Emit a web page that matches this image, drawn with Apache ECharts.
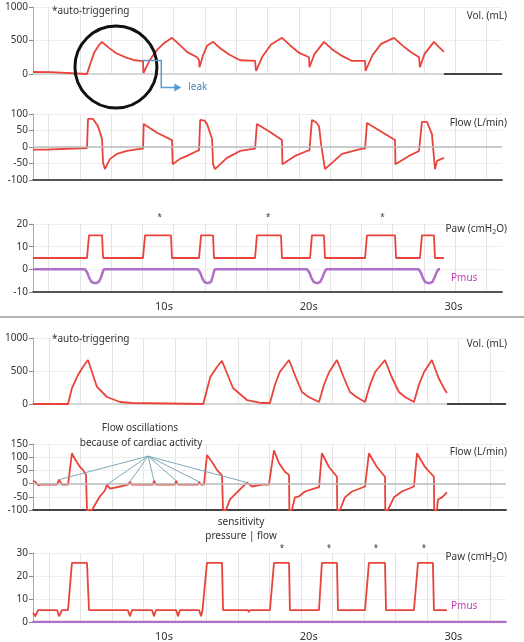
<!DOCTYPE html>
<html>
<head>
<meta charset="utf-8">
<script src="https://cdn.jsdelivr.net/npm/echarts@6/dist/echarts.min.js"></script>
<style>
html,body{margin:0;padding:0;background:#fff}
#main{width:524px;height:642px}
</style>
</head>
<body>
<div id="main"></div>
<script>
// ---- data (time in s, values in panel units) ----
var volTop = [[0.95,30],[2.2,28],[2.3,0],[4.68,0],[4.9,150],[5.2,330],[5.5,430],[5.72,478],[6.2,390],[6.7,310],[7.44,240],[8.0,205],[8.34,195],[8.55,195],[8.58,15],[9.0,200],[9.52,360],[10.0,460],[10.55,540],[11.1,430],[11.59,330],[12.28,250],[12.42,210],[12.45,100],[12.7,280],[12.97,420],[13.39,480],[13.9,380],[14.5,290],[15.25,205],[16.29,195],[16.36,45],[16.8,260],[17.4,440],[18.15,540],[18.7,430],[19.3,320],[20.02,250],[20.05,100],[20.4,300],[21.05,480],[21.6,370],[22.3,270],[22.99,195],[23.89,195],[23.92,45],[24.4,280],[25.0,450],[25.89,540],[26.5,420],[27.1,320],[27.62,250],[27.68,100],[28.0,300],[28.65,480],[29.0,400],[29.34,330]];
var flowTop = [[0.95,-8],[1.85,-8],[1.86,-3],[4.68,-3],[4.75,85],[5.1,85],[5.44,63],[5.72,24],[5.79,-48],[5.92,-67],[6.27,-36],[6.8,-20],[7.44,-12],[8.34,-6],[8.55,-5],[8.6,70],[9.52,43],[10.55,21],[10.6,-52],[11.1,-36],[11.59,-27],[12.28,-12],[12.42,-10],[12.5,82],[12.8,80],[12.97,70],[13.32,24],[13.39,-52],[13.52,-67],[14.35,-33],[15.25,-12],[16.15,-6],[16.29,-5],[16.42,70],[17.25,48],[18.15,21],[18.18,-52],[19.05,-27],[19.88,-12],[20.05,-10],[20.22,82],[20.5,75],[20.71,63],[20.85,9],[21.12,-67],[22.3,-21],[23.68,-5],[23.89,-5],[24.02,73],[25.96,21],[25.99,-52],[26.92,-27],[27.62,-12],[27.7,-10],[27.82,76],[28.17,76],[28.51,39],[28.72,-67],[28.86,-42],[29.34,-33]];
var pawTop = [[0.95,5],[4.68,5],[4.82,15],[5.72,15],[5.79,5],[8.55,5],[8.69,15],[10.48,15],[10.55,5],[12.42,5],[12.56,15],[13.39,15],[13.45,5],[16.29,5],[16.42,15],[18.08,15],[18.15,5],[20.09,5],[20.22,15],[21.05,15],[21.12,5],[23.89,5],[24.02,15],[25.96,15],[26.03,5],[27.68,5],[27.82,15],[28.65,15],[28.72,5],[29.34,5]];
var pmusTop = [[0.95,0],[4.55,0],[4.7,-1.5],[4.85,-4],[5.0,-5.6],[5.15,-6],[5.35,-6],[5.5,-5.5],[5.65,-3.5],[5.78,-1],[5.85,0],[12.35,0],[12.5,-1.5],[12.65,-4],[12.8,-5.6],[12.95,-6],[13.1,-6],[13.25,-5.5],[13.35,-3.5],[13.45,-1],[13.52,0],[19.88,0],[20.05,-1.5],[20.2,-4],[20.35,-5.6],[20.5,-6],[20.65,-6],[20.8,-5.5],[20.95,-3.5],[21.1,-1],[21.2,0],[27.6,0],[27.75,-1.5],[27.9,-4],[28.05,-5.6],[28.2,-6],[28.4,-6],[28.55,-5.5],[28.7,-3.5],[28.85,-1],[28.95,0],[29.07,0]];
var sweepTop = [[29.34,0],[33.35,0]];

var volBot = [[0.95,0],[3.37,0],[3.64,242],[4.06,440],[4.4,560],[4.75,667],[5.37,258],[6.06,106],[6.96,30],[7.79,15],[7.85,0],[12.71,0],[13.2,409],[13.66,560],[14.0,655],[14.77,242],[15.73,60],[16.77,15],[17.32,15],[17.66,288],[18.0,485],[18.64,667],[19.1,409],[19.53,182],[20.0,106],[20.71,30],[21.05,288],[21.41,485],[21.95,667],[22.41,409],[22.85,182],[23.3,106],[23.89,30],[24.23,288],[24.59,485],[25.27,667],[25.73,409],[26.23,182],[26.65,106],[27.27,30],[27.61,288],[27.97,485],[28.51,667],[28.98,390],[29.34,240],[29.55,167]];
var flowBot = [[0.95,11],[1.1,7],[1.3,-6],[1.5,-4],[2.61,-4],[2.75,15],[2.95,-4],[3.37,-4],[3.64,115],[3.85,93],[4.2,63],[4.4,52],[4.61,33],[4.68,-100],[5.03,-100],[5.37,-67],[5.58,-48],[5.92,-26],[6.06,-4],[6.27,-19],[6.96,-11],[7.51,-4],[7.65,7],[7.79,-4],[9.24,-4],[9.31,11],[9.45,-4],[10.76,-4],[10.83,11],[10.97,-4],[12.35,-4],[12.42,7],[12.56,-4],[12.76,-4],[12.97,108],[13.32,82],[13.66,52],[14.01,30],[14.08,-100],[14.28,-100],[14.56,-60],[15.25,-22],[15.73,4],[16.08,-11],[16.77,-4],[17.25,-4],[17.6,126],[17.94,78],[18.36,45],[18.64,33],[18.66,-100],[18.84,-100],[19.05,-52],[19.33,-48],[19.74,-30],[20.57,-15],[20.71,-15],[20.91,115],[21.4,63],[21.95,26],[21.97,-100],[22.16,-100],[22.5,-52],[22.99,-30],[23.89,-11],[24.16,115],[24.71,63],[25.27,26],[25.29,-100],[25.47,-100],[25.89,-52],[26.44,-30],[27.27,-11],[27.48,115],[28.03,63],[28.65,26],[28.67,-100],[28.86,-100],[28.93,-60],[29.21,-52],[29.55,-33]];
var pawBot = [[0.95,4],[1.1,2.5],[1.3,5.2],[2.61,5.2],[2.75,2.5],[2.95,5.2],[3.37,5.2],[3.64,25.7],[4.68,25.7],[4.82,5.2],[7.5,5.2],[7.65,2.5],[7.79,5.2],[9.17,5.2],[9.31,2.5],[9.45,5.2],[10.83,5.2],[10.97,2.5],[11.1,5.2],[12.42,5.2],[12.56,2.5],[12.66,5.2],[12.76,5.2],[12.97,25.7],[14.01,25.7],[14.08,5.2],[15.8,5.2],[15.87,4.3],[15.94,5.2],[17.32,5.2],[17.6,25.7],[18.64,25.7],[18.7,5.2],[20.71,5.2],[20.91,25.7],[21.95,25.7],[22.02,5.2],[23.89,5.2],[24.16,25.7],[25.27,25.7],[25.34,5.2],[27.27,5.2],[27.55,25.7],[28.58,25.7],[28.65,5.2],[29.55,5.2]];
var pmusBot = [[0.95,0],[33.63,0]];
var sweepBot = [[29.55,0],[33.63,0]];

var timeLabels = [10, 20, 30];
var autoTopT = [9.7, 17.2, 25.1];
var autoBotT = [18.15, 21.4, 24.64, 27.96];
var cardiacT = [2.75, 6.06, 7.65, 9.31, 10.83, 12.42, 15.73];
var cardiacV = [15, -4, 7, 11, 11, 7, 4];

var yMin = [0, -100, -10, 0, -100, 0];
var yMax = [1000, 100, 20, 1000, 150, 30];
var yStep = [500, 50, 10, 500, 50, 10];

// ---- layout ----
var FONT = 'Noto Sans';
var RED = '#e9433b', PURPLE = '#b070c8';
var gridPos = [[7,67,22],[114,66,22],[224,68,22],[338,66,18],[444,66,18],[553,70,18]];
var axisLineCol = ['#d6d6d6','#555','#555','#d6d6d6','#444',PURPLE];

var myChart = echarts.init(document.getElementById('main'));

var grids = [], xAxes = [], yAxes = [];
for (var i = 0; i < 6; i++) {
  grids.push({left:33, top:gridPos[i][0], height:gridPos[i][1], right:gridPos[i][2]});
  var hasLabel = (i === 2 || i === 5);
  xAxes.push({
    type:'value', gridIndex:i, min:0.95, max: i < 3 ? 33.35 : 33.63,
    axisLine:{onZero:false, lineStyle:{color:axisLineCol[i], width:2}},
    axisTick:{show:false},
    axisLabel: hasLabel ? {show:true, customValues:timeLabels, formatter:'{value}s', color:'#333', fontFamily:FONT, fontSize:11, margin:9} : {show:false},
    splitLine:{show:false}
  });
  yAxes.push({
    type:'value', gridIndex:i, min:yMin[i], max:yMax[i], interval:yStep[i],
    axisLine:{show:true, lineStyle:{color:'#aaa', width:1}},
    axisTick:{show:true, length:4, lineStyle:{color:'#888'}},
    axisLabel:{color:'#333', fontFamily:FONT, fontSize:10, margin:5, formatter:function(v){ return String(v); }},
    splitLine:{show:true, lineStyle:{color:'#eeeeee', width:1}}
  });
}
// faint vertical grid (helper axes)
var T = 'rgba(0,0,0,0)', GL = '#e4e4e4';
for (var j = 0; j < 6; j++) {
  var top = j < 3;
  xAxes.push({
    type:'value', gridIndex:j, min:0, max: top ? 30 : 75, interval:1,
    axisLine:{show:false}, axisTick:{show:false}, axisLabel:{show:false},
    splitLine:{show:true, lineStyle:{width:1, color: top ? [T, GL] : [T, GL, T, T, T]}}
  });
}

function line(idx, data, color, width, extra) {
  var s = {type:'line', xAxisIndex:idx, yAxisIndex:idx, data:data, symbol:'none', silent:true,
    lineStyle:{color:color, width:width}, z:3};
  if (extra) for (var k in extra) s[k] = extra[k];
  return s;
}
var zeroLine = {silent:true, symbol:'none', label:{show:false}, data:[{yAxis:0}], lineStyle:{color:'#bbb', width:1.5, type:'solid'}};

var option = {
  animation:false,
  backgroundColor:'#fff',
  grid:grids, xAxis:xAxes, yAxis:yAxes,
  series:[
    line(0, volTop, RED, 1.8),
    line(0, sweepTop, '#444', 2),
    line(1, flowTop, RED, 1.8, {markLine:zeroLine}),
    line(2, pmusTop, PURPLE, 2.5),
    line(2, pawTop, RED, 1.8),
    line(3, volBot, RED, 1.8),
    line(3, sweepBot, '#444', 2),
    line(4, flowBot, RED, 1.8, {markLine:zeroLine}),
    line(5, pmusBot, PURPLE, 2.5),
    line(5, pawBot, RED, 1.8)
  ]
};
myChart.setOption(option);

// ---- annotations ----
function px(idx, t, v) { return myChart.convertToPixel({xAxisIndex:idx, yAxisIndex:idx}, [t, v]); }
var txt = function(x, y, s, opt) {
  var st = {text:s, x:x, y:y, fill:'#333', font:'10px ' + FONT, align:'left', verticalAlign:'middle'};
  if (opt) for (var k in opt) st[k] = opt[k];
  return {type:'text', style:st, z:10};
};
var g = [];
g.push({type:'line', shape:{x1:0, y1:317, x2:524, y2:317}, style:{stroke:'#999', lineWidth:1.5}});
g.push(txt(52, 11, '*auto-triggering'));
g.push(txt(52, 339, '*auto-triggering'));
var rightLabels = [['Vol. (mL)',16],['Flow (L/min)',123],['Paw (cmH{s|2}O)',229],['Vol. (mL)',344],['Flow (L/min)',452],['Paw (cmH{s|2}O)',557]];
rightLabels.forEach(function(r) {
  g.push(txt(507, r[1], r[0], {align:'right', rich:{s:{fontSize:7, fontFamily:FONT, fill:'#333', padding:[6,0,0,0]}}}));
});
g.push(txt(451, 278, 'Pmus', {fill:'#c13fb4'}));
g.push(txt(451, 606, 'Pmus', {fill:'#c13fb4'}));

// auto-triggering asterisks
autoTopT.forEach(function(t) { var p = px(2, t, 20); g.push(txt(p[0], p[1] - 6, '*', {align:'center', font:'8px ' + FONT})); });
autoBotT.forEach(function(t) { var p = px(5, t, 30); g.push(txt(p[0], p[1] - 4, '*', {align:'center', font:'8px ' + FONT})); });

// circle around the first auto-triggered breath
var c = px(0, 6.68, 104);
g.push({type:'circle', shape:{cx:c[0], cy:c[1], r:41}, style:{fill:'none', stroke:'#111', lineWidth:3}, z:9});

// leak arrow
var a = px(0, 8.5, 200);
g.push({type:'polyline', shape:{points:[[a[0], a[1]], [a[0] + 19, a[1]], [a[0] + 19, a[1] + 27], [a[0] + 34, a[1] + 27]]}, style:{stroke:'#5a9ccc', lineWidth:1.5, fill:'none'}, z:9});
g.push({type:'polygon', shape:{points:[[a[0] + 39, a[1] + 27], [a[0] + 32, a[1] + 23], [a[0] + 32, a[1] + 31]]}, style:{fill:'#5a9ccc'}, z:9});
g.push(txt(a[0] + 46, a[1] + 27, 'leak', {fill:'#4a86b8'}));

// cardiac oscillation lines
var o = px(4, 8.9, 104);
cardiacT.forEach(function(t, k) {
  var p = px(4, t, cardiacV[k]);
  g.push({type:'line', shape:{x1:o[0], y1:o[1], x2:p[0], y2:p[1]}, style:{stroke:'#7fa9b8', lineWidth:1}, z:8});
});
g.push(txt(140, 428, 'Flow oscillations', {align:'center', font:'10px ' + FONT}));
g.push(txt(141, 443, 'because of cardiac activity', {align:'center', font:'10px ' + FONT}));
g.push(txt(241, 522, 'sensitivity', {align:'center', font:'10px ' + FONT}));
g.push(txt(241, 536, 'pressure | flow', {align:'center', font:'10px ' + FONT}));

myChart.setOption({graphic:g});
</script>
</body>
</html>
